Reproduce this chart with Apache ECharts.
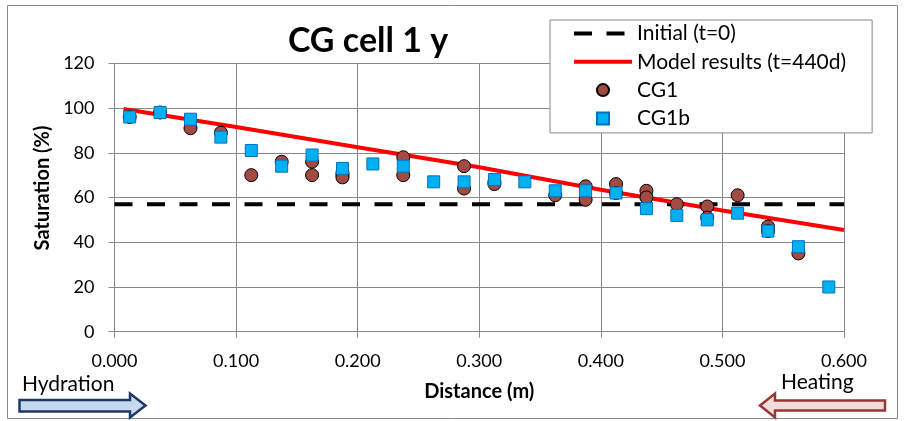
<!DOCTYPE html>
<html>
<head>
<meta charset="utf-8">
<title>CG cell 1 y</title>
<script src="https://cdn.jsdelivr.net/npm/echarts@6/dist/echarts.min.js"></script>
<style>
  html, body { margin: 0; padding: 0; background: #fff; }
  #chart { width: 904px; height: 421px; }
</style>
</head>
<body>
<div id="chart"></div>
<script>
// Saturation profile along the CG cell 1 (y direction)
var xTicks = [0, 0.1, 0.2, 0.3, 0.4, 0.5, 0.6];
var yTicks = [0, 20, 40, 60, 80, 100, 120];

// Initial saturation (t = 0)
var initialX = [0, 0.6];
var initialY = [57, 57];

// Model results at t = 440 d
var modelX = [0.0075, 0.1, 0.2, 0.3, 0.4, 0.5, 0.6];
var modelY = [99.6, 91.5, 82.5, 73.5, 63.5, 54.2, 45.5];

// CG1 measurements
var cg1X = [0.0125, 0.0375, 0.0625, 0.0875, 0.1125, 0.1375, 0.1625, 0.1625,
            0.1875, 0.1875, 0.1875, 0.2375, 0.2375, 0.2875, 0.2875, 0.3125, 0.3125,
            0.3625, 0.3875, 0.3875, 0.4125, 0.4125, 0.4375, 0.4375, 0.4625,
            0.4875, 0.4875, 0.5125, 0.5375, 0.5375, 0.5625];
var cg1Y = [96, 98, 91, 89, 70, 76, 76, 70,
            71, 70, 69, 78, 70, 74, 64, 67, 66,
            61, 65, 59, 66, 62, 63, 60, 57,
            56, 51, 61, 47, 45, 35];

// CG1b measurements
var cg1bX = [0.0125, 0.0375, 0.0625, 0.0875, 0.1125, 0.1375, 0.1625, 0.1875,
             0.2125, 0.2375, 0.2625, 0.2875, 0.3125, 0.3375, 0.3625, 0.3875,
             0.4125, 0.4375, 0.4625, 0.4875, 0.5125, 0.5375, 0.5625, 0.5875];
var cg1bY = [96, 98, 95, 87, 81, 74, 79, 73,
             75, 74, 67, 67, 68, 67, 63, 63,
             62, 55, 52, 50, 53, 45, 38, 20];

function pairs(xs, ys) {
  return xs.map(function (x, i) { return [x, ys[i]]; });
}

var FONT = 'Lato, "Open Sans", sans-serif';

var chart = echarts.init(document.getElementById('chart'), null, { renderer: 'canvas' });

chart.setOption({
  animation: false,
  backgroundColor: '#fff',
  textStyle: { fontFamily: FONT },
  title: {
    text: 'CG cell 1 y',
    left: 363,
    top: 19,
    textAlign: 'center',
    textStyle: { fontFamily: FONT, fontSize: 34, fontWeight: 'bold', color: '#000' }
  },
  grid: { left: 114.5, right: 60, top: 63.3, bottom: 89.3, containLabel: false },
  legend: {
    orient: 'vertical',
    left: 550,
    top: 20,
    padding: [3, 26, 4, 22],
    itemWidth: 58,
    itemHeight: 12,
    itemGap: 7.3,
    backgroundColor: '#fff',
    borderColor: '#888',
    borderWidth: 1,
    borderRadius: 0,
    textStyle: { fontFamily: FONT, fontSize: 21, color: '#000' },
    data: [
      { name: 'Initial (t=0)', itemStyle: { opacity: 0 }, lineStyle: { width: 4 } },
      { name: 'Model results (t=440d)', itemStyle: { opacity: 0 }, lineStyle: { width: 4 } },
      { name: 'CG1' },
      { name: 'CG1b', icon: 'path://M0,0h10v10h-10z' }
    ]
  },
  xAxis: {
    type: 'value',
    min: xTicks[0],
    max: xTicks[xTicks.length - 1],
    interval: 0.1,
    name: 'Distance (m)',
    nameLocation: 'middle',
    nameGap: 50,
    nameTextStyle: { fontFamily: FONT, fontSize: 20, fontWeight: 'bold', color: '#000' },
    axisLine: { show: true, lineStyle: { color: '#888', width: 1 } },
    axisTick: { show: true, inside: false, length: 6, lineStyle: { color: '#888' } },
    axisLabel: {
      fontFamily: FONT, fontSize: 18, color: '#000', margin: 20,
      formatter: function (v) { return v.toFixed(3); }
    },
    splitLine: { show: true, lineStyle: { color: '#888', width: 1 } }
  },
  yAxis: {
    type: 'value',
    min: yTicks[0],
    max: yTicks[yTicks.length - 1],
    interval: 20,
    name: 'Saturation (%)',
    nameLocation: 'middle',
    nameGap: 62,
    nameRotate: 90,
    nameTextStyle: { fontFamily: FONT, fontSize: 20, fontWeight: 'bold', color: '#000', padding: [0, 0, 0, 19] },
    axisLine: { show: true, lineStyle: { color: '#888', width: 1 } },
    axisTick: { show: true, inside: false, length: 6, lineStyle: { color: '#888' } },
    axisLabel: { fontFamily: FONT, fontSize: 18, color: '#000', margin: 20 },
    splitLine: { show: true, lineStyle: { color: '#888', width: 1 } }
  },
  series: [
    {
      name: 'Initial (t=0)',
      type: 'line',
      data: pairs(initialX, initialY),
      symbol: 'none',
      lineStyle: { color: '#000', width: 4, type: [18, 14.5] },
      itemStyle: { color: '#000' },
      z: 2
    },
    {
      name: 'Model results (t=440d)',
      type: 'line',
      data: pairs(modelX, modelY),
      symbol: 'none',
      lineStyle: { color: '#ff0000', width: 4 },
      itemStyle: { color: '#ff0000' },
      z: 3
    },
    {
      name: 'CG1',
      type: 'scatter',
      data: pairs(cg1X, cg1Y),
      symbol: 'circle',
      symbolSize: 13,
      itemStyle: { color: '#A34A42', borderColor: '#000', borderWidth: 1, opacity: 1 },
      z: 4
    },
    {
      name: 'CG1b',
      type: 'scatter',
      data: pairs(cg1bX, cg1bY),
      symbol: 'rect',
      symbolSize: 12,
      itemStyle: { color: '#00B0F0', borderColor: '#0070C0', borderWidth: 1, opacity: 1 },
      z: 5
    }
  ],
  graphic: [
    {
      type: 'rect',
      shape: { x: 7.5, y: 5.5, width: 890, height: 413 },
      style: { fill: null, stroke: '#888', lineWidth: 1 },
      silent: true,
      z: -1
    },
    {
      type: 'text',
      left: 22,
      top: 374,
      style: { text: 'Hydration', font: '21px ' + FONT, fill: '#000' }
    },
    {
      type: 'polygon',
      shape: { points: [[19.5, 400], [130, 400], [130, 393.5], [145.5, 405.5], [130, 417.5], [130, 411.5], [19.5, 411.5]] },
      style: { fill: '#C6D9F1', stroke: '#1F3864', lineWidth: 2.5 }
    },
    {
      type: 'text',
      left: 781,
      top: 372,
      style: { text: 'Heating', font: '21px ' + FONT, fill: '#000' }
    },
    {
      type: 'polygon',
      shape: { points: [[885, 400.5], [775, 400.5], [775, 393.5], [760, 405.5], [775, 417.5], [775, 410.5], [885, 410.5]] },
      style: { fill: '#F2DCDB', stroke: '#953735', lineWidth: 2.5 }
    }
  ]
});
</script>
</body>
</html>
